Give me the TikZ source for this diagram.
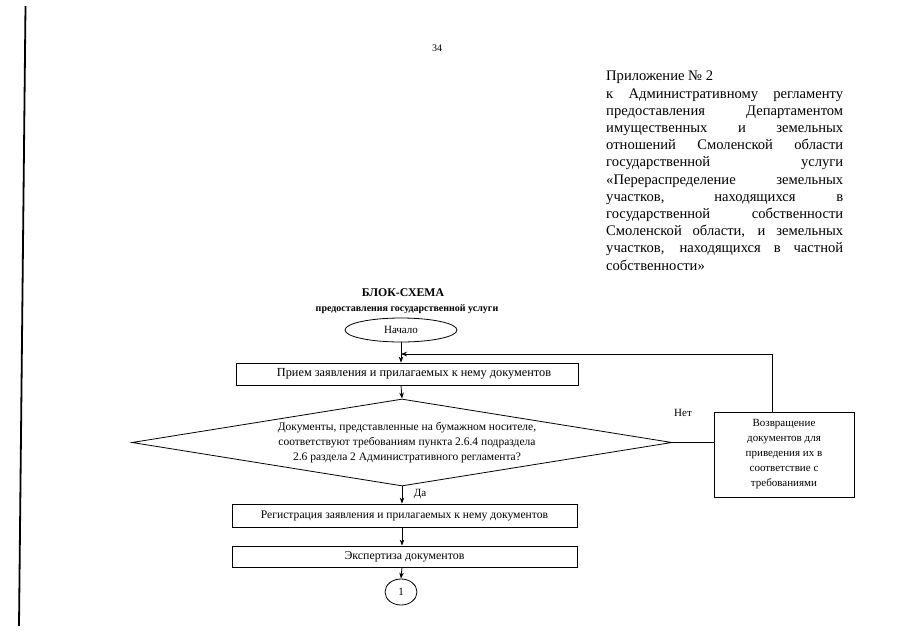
\documentclass[tikz,border=0pt]{standalone}
\usepackage{fontspec}
\setmainfont{Liberation Serif}
\usetikzlibrary{shapes.geometric,arrows.meta}
\begin{document}
\begin{tikzpicture}[x=1pt,y=-1pt,
  box/.style={draw,line width=0.8pt,rectangle,inner sep=0pt,font=\fontsize{12}{14}\selectfont},
  txt/.style={inner sep=0pt,font=\fontsize{11.5}{15}\selectfont,align=center},
  arr/.style={line width=0.8pt,-{Stealth[length=6pt,width=4.5pt]}},
  ln/.style={line width=0.8pt}]
\useasboundingbox (0,0) rectangle (905,640);
\fill[white] (0,0) rectangle (905,640);
% left margin line
\coordinate (m1) at (25.5,6);
\coordinate (m2) at (19,626);
\draw[line width=1.8pt] (m1) -- (m2);
% page number
\node[inner sep=0pt,font=\fontsize{10}{12}\selectfont] (pn) at (437,48) {34};
% appendix
\node[anchor=north west,inner sep=0pt,text width=237pt,align=justify,
  font=\fontsize{14.6}{17.2}\selectfont] (app) at (606,71) {%
\tolerance=10000\hbadness=10000
Приложение № 2\par
к Административному регламенту\linebreak
предоставления Департаментом\linebreak
имущественных и земельных\linebreak
отношений Смоленской области\linebreak
государственной услуги\linebreak
«Перераспределение земельных\linebreak
участков, находящихся в\linebreak
государственной собственности\linebreak
Смоленской области, и земельных\linebreak
участков, находящихся в частной\linebreak
собственности»};
% titles
\node[inner sep=0pt,font=\fontsize{11.8}{14}\bfseries] (t1) at (403,293) {БЛОК-СХЕМА};
\node[inner sep=0pt,font=\fontsize{10}{14}\bfseries] (t2) at (407,309) {предоставления государственной услуги};
% start
\node[draw,ellipse,line width=0.8pt,minimum width=112pt,minimum height=24pt,inner sep=0pt,font=\fontsize{11}{13}\selectfont] (start) at (401,330) {Начало};
% r1
\node[box,minimum width=342pt,minimum height=22pt,font=\fontsize{12.3}{14}\selectfont] (r1) at (407,374) {\hspace*{14pt}Прием заявления и прилагаемых к нему документов};
% decision
\node[draw,diamond,line width=0.8pt,minimum width=540pt,minimum height=87pt,inner sep=0pt] (dec) at (402,442.5) {};
\node[txt] (dect) at (407,443) {Документы, представленные на бумажном носителе,\\соответствуют требованиям пункта 2.6.4 подраздела\\2.6 раздела 2 Административного регламента?};
% return box
\node[box,minimum width=140pt,minimum height=85pt,align=center,font=\fontsize{11}{15}\selectfont] (ret) at (784,454.5) {Возвращение\\документов для\\приведения их в\\соответствие с\\требованиями};
\node[inner sep=0pt,font=\fontsize{11}{13}\selectfont] (no) at (683,413) {Нет};
\node[inner sep=0pt,font=\fontsize{11}{13}\selectfont] (yes) at (420,494) {Да};
% r2, r3
\node[box,minimum width=345pt,minimum height=23pt,font=\fontsize{11.6}{14}\selectfont] (r2) at (404.5,515.5) {Регистрация заявления и прилагаемых к нему документов};
\node[box,minimum width=345pt,minimum height=21pt,font=\fontsize{11.9}{14}\selectfont] (r3) at (404.5,556.5) {Экспертиза документов};
\node[draw,ellipse,line width=0.8pt,minimum width=32pt,minimum height=26pt,inner sep=0pt,font=\fontsize{11}{13}\selectfont] (c1) at (401,592) {1};
% connectors
\coordinate (fb2) at (772,354);
\coordinate (fb3) at (start.south |- fb2);
\draw[arr] (start.south) -- (start.south |- r1.north);
\draw[ln] (772,0 |- ret.north) -- (fb2);
\draw[arr] (fb2) -- (fb3);
\draw[arr] (start.south |- r1.south) -- (dec.north);
\draw[ln] (dec.east) -- (dec.east -| ret.west);
\draw[arr] (dec.south) -- (dec.south |- r2.north);
\draw[arr] (dec.south |- r2.south) -- (dec.south |- r3.north);
\draw[arr] (dec.south |- r3.south) -- (c1.north);
\end{tikzpicture}
\end{document}
